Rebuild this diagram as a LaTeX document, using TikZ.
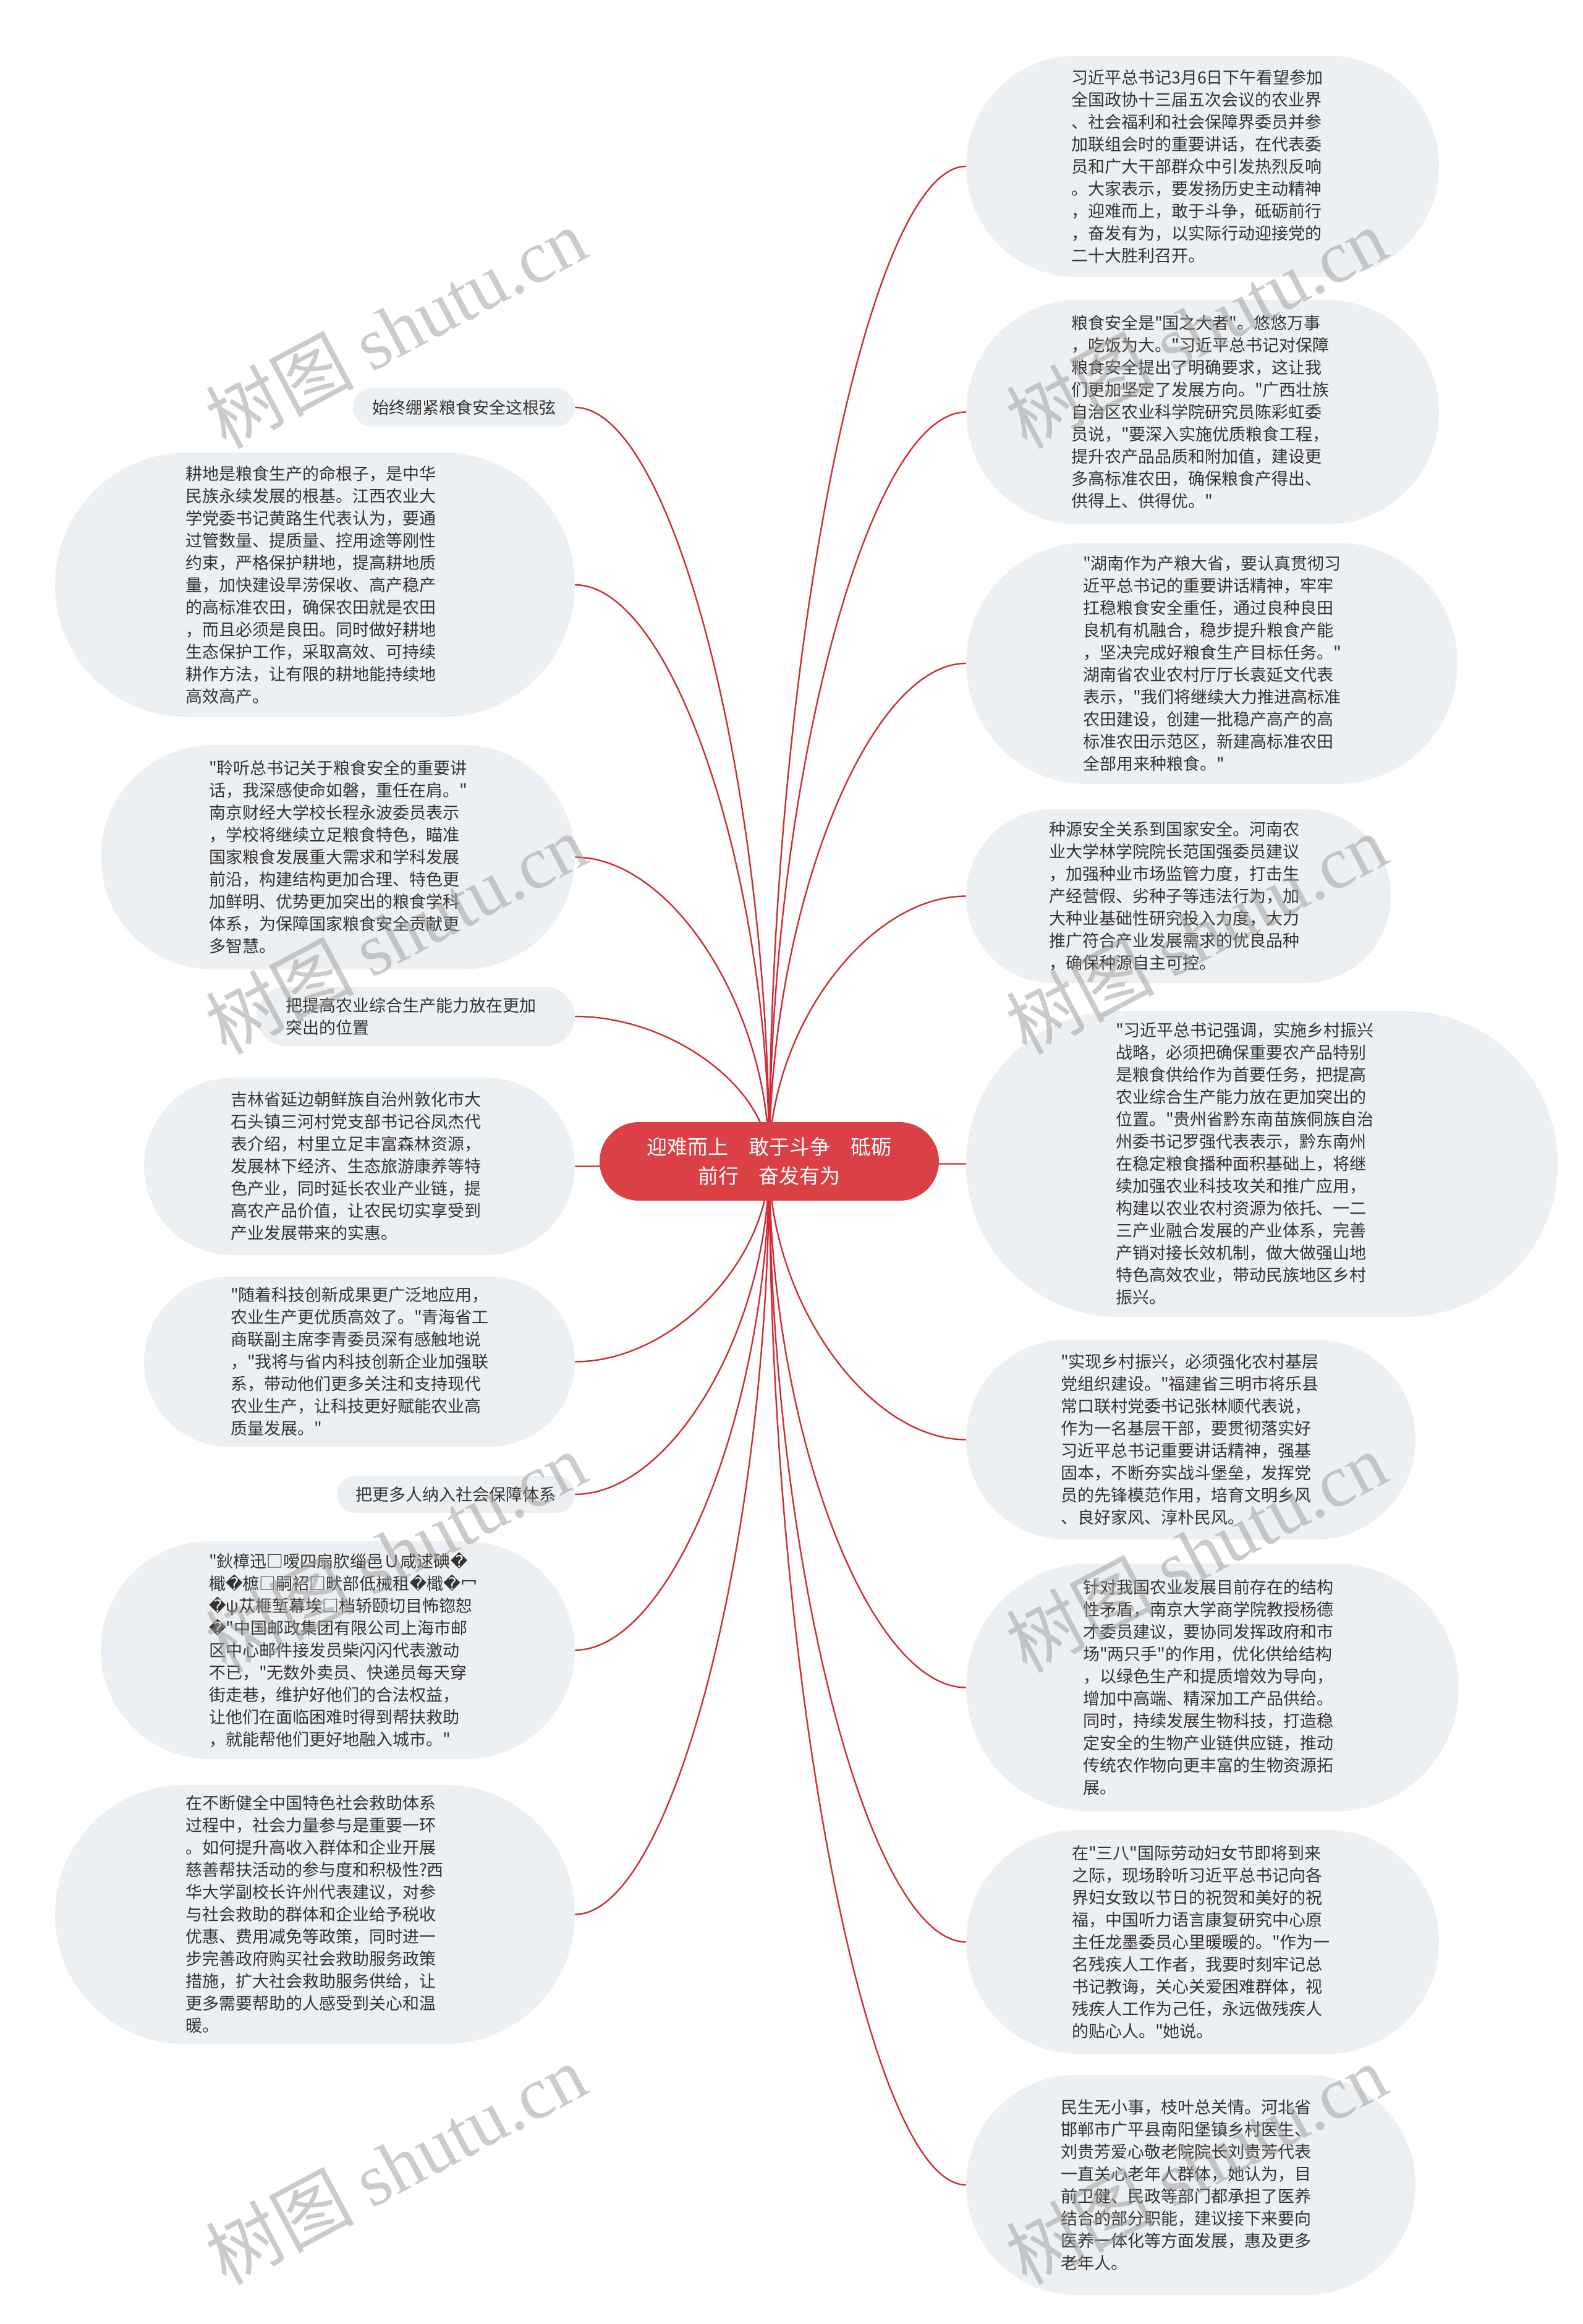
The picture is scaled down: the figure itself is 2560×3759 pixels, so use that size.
\documentclass[tikz,border=0pt]{standalone}
\usepackage{fontspec}
\setmainfont{Noto Sans CJK SC}[Ligatures=TeXOff]
\newfontfamily\wmfont{Liberation Serif}
\newfontfamily\symfont{DejaVu Sans}
\usetikzlibrary{calc,backgrounds}
\definecolor{rootred}{RGB}{218,64,70}
\definecolor{linkred}{RGB}{205,45,55}
\definecolor{leafgray}{RGB}{237,240,243}
\definecolor{inkgray}{RGB}{51,51,51}
\newcommand{\leaffont}{\fontsize{27pt}{36pt}\selectfont}
\newcommand{\topicfont}{\fontsize{33pt}{47pt}\selectfont}
\newcommand{\garb}{{\symfont\char"FFFD}}

\begin{document}
\begin{tikzpicture}[
    x=1pt,y=-1pt,
    topic/.style={fill=rootred,text=white,align=center,inner sep=0pt,font=\topicfont,
      minimum width=549pt,minimum height=127pt,rounded corners=63.5pt},
    leaf/.style n args={3}{fill=leafgray,text=inkgray,align=left,inner sep=0pt,font=\leaffont,
      minimum width=#1pt,minimum height=#2pt,text width=#3pt,rounded corners=#2pt/2},
    wire/.style={draw=linkred,line width=2.4pt},
    wmark/.style={rotate=28,text=black!40,text opacity=0.5,inner sep=0pt,
      font=\fontsize{120pt}{120pt}\selectfont},
  ]
    \useasboundingbox (0,0) rectangle (2560,3759);

    \node[topic] (root) at (1244.5,1878.5) {迎难而上\quad 敢于斗争\quad 砥砺\\前行\quad 奋发有为};

    \node[leaf={765}{358}{425}] (r1) at (1945.5,269) {习近平总书记3月6日下午看望参加\\全国政协十三届五次会议的农业界\\、社会福利和社会保障界委员并参\\加联组会时的重要讲话，在代表委\\员和广大干部群众中引发热烈反响\\。大家表示，要发扬历史主动精神\\，迎难而上，敢于斗争，砥砺前行\\，奋发有为，以实际行动迎接党的\\二十大胜利召开。};
    \node[leaf={765}{363}{425}] (r2) at (1945.5,666.5) {粮食安全是"国之大者"。悠悠万事\\，吃饭为大。"习近平总书记对保障\\粮食安全提出了明确要求，这让我\\们更加坚定了发展方向。"广西壮族\\自治区农业科学院研究员陈彩虹委\\员说，"要深入实施优质粮食工程，\\提升农产品品质和附加值，建设更\\多高标准农田，确保粮食产得出、\\供得上、供得优。"};
    \node[leaf={795}{390}{417}] (r3) at (1960.5,1073) {"湖南作为产粮大省，要认真贯彻习\\近平总书记的重要讲话精神，牢牢\\扛稳粮食安全重任，通过良种良田\\良机有机融合，稳步提升粮食产能\\，坚决完成好粮食生产目标任务。"\\湖南省农业农村厅厅长袁延文代表\\表示，"我们将继续大力推进高标准\\农田建设，创建一批稳产高产的高\\标准农田示范区，新建高标准农田\\全部用来种粮食。"};
    \node[leaf={687}{281}{419}] (r4) at (1906.5,1449.5) {种源安全关系到国家安全。河南农\\业大学林学院院长范国强委员建议\\，加强种业市场监管力度，打击生\\产经营假、劣种子等违法行为，加\\大种业基础性研究投入力度，大力\\推广符合产业发展需求的优良品种\\，确保种源自主可控。};
    \node[leaf={957}{495}{473}] (r5) at (2041.5,1882.5) {"习近平总书记强调，实施乡村振兴\\战略，必须把确保重要农产品特别\\是粮食供给作为首要任务，把提高\\农业综合生产能力放在更加突出的\\位置。"贵州省黔东南苗族侗族自治\\州委书记罗强代表表示，黔东南州\\在稳定粮食播种面积基础上，将继\\续加强农业科技攻关和推广应用，\\构建以农业农村资源为依托、一二\\三产业融合发展的产业体系，完善\\产销对接长效机制，做大做强山地\\特色高效农业，带动民族地区乡村\\振兴。};
    \node[leaf={727}{323}{421}] (r6) at (1926.5,2328.5) {"实现乡村振兴，必须强化农村基层\\党组织建设。"福建省三明市将乐县\\常口联村党委书记张林顺代表说，\\作为一名基层干部，要贯彻落实好\\习近平总书记重要讲话精神，强基\\固本，不断夯实战斗堡垒，发挥党\\员的先锋模范作用，培育文明乡风\\、良好家风、淳朴民风。};
    \node[leaf={797}{401}{419}] (r7) at (1961.5,2729.5) {针对我国农业发展目前存在的结构\\性矛盾，南京大学商学院教授杨德\\才委员建议，要协同发挥政府和市\\场"两只手"的作用，优化供给结构\\，以绿色生产和提质增效为导向，\\增加中高端、精深加工产品供给。\\同时，持续发展生物科技，打造稳\\定安全的生物产业链供应链，推动\\传统农作物向更丰富的生物资源拓\\展。};
    \node[leaf={765}{362}{423}] (r8) at (1945.5,3141) {在"三八"国际劳动妇女节即将到来\\之际，现场聆听习近平总书记向各\\界妇女致以节日的祝贺和美好的祝\\福，中国听力语言康复研究中心原\\主任龙墨委员心里暖暖的。"作为一\\名残疾人工作者，我要时刻牢记总\\书记教诲，关心关爱困难群体，视\\残疾人工作为己任，永远做残疾人\\的贴心人。"她说。};
    \node[leaf={727}{356}{421}] (r9) at (1926.5,3534) {民生无小事，枝叶总关情。河北省\\邯郸市广平县南阳堡镇乡村医生、\\刘贵芳爱心敬老院院长刘贵芳代表\\一直关心老年人群体，她认为，目\\前卫健、民政等部门都承担了医养\\结合的部分职能，建议接下来要向\\医养一体化等方面发展，惠及更多\\老年人。};

    \node[leaf={359}{62}{297}] (l1) at (750.5,659) {始终绷紧粮食安全这根弦};
    \node[leaf={841}{428}{419}] (l2) at (509.5,946) {耕地是粮食生产的命根子，是中华\\民族永续发展的根基。江西农业大\\学党委书记黄路生代表认为，要通\\过管数量、提质量、控用途等刚性\\约束，严格保护耕地，提高耕地质\\量，加快建设旱涝保收、高产稳产\\的高标准农田，确保农田就是农田\\，而且必须是良田。同时做好耕地\\生态保护工作，采取高效、可持续\\耕作方法，让有限的耕地能持续地\\高效高产。};
    \node[leaf={767}{363}{417}] (l3) at (546.5,1386.5) {"聆听总书记关于粮食安全的重要讲\\话，我深感使命如磐，重任在肩。"\\南京财经大学校长程永波委员表示\\，学校将继续立足粮食特色，瞄准\\国家粮食发展重大需求和学科发展\\前沿，构建结构更加合理、特色更\\加鲜明、优势更加突出的粮食学科\\体系，为保障国家粮食安全贡献更\\多智慧。};
    \node[leaf={515}{96}{421}] (l4) at (672.5,1644) {把提高农业综合生产能力放在更加\\突出的位置};
    \node[leaf={697}{287}{417}] (l5) at (581.5,1886.5) {吉林省延边朝鲜族自治州敦化市大\\石头镇三河村党支部书记谷凤杰代\\表介绍，村里立足丰富森林资源，\\发展林下经济、生态旅游康养等特\\色产业，同时延长农业产业链，提\\高农产品价值，让农民切实享受到\\产业发展带来的实惠。};
    \node[leaf={697}{275}{417}] (l6) at (581.5,2202.5) {"随着科技创新成果更广泛地应用，\\农业生产更优质高效了。"青海省工\\商联副主席李青委员深有感触地说\\，"我将与省内科技创新企业加强联\\系，带动他们更多关注和支持现代\\农业生产，让科技更好赋能农业高\\质量发展。"};
    \node[leaf={385}{60}{324}] (l7) at (737.5,2417) {把更多人纳入社会保障体系};
    \node[leaf={767}{352}{417}] (l8) at (546.5,2669) {"鈥樟迅□嗳四扇肷缁邑Ｕ咸逑碘\garb\\檝\garb 樜□嗣祒□畎部低械租\garb 檝\garb 冖\\\garb ψ苁榧堑幕埃□档轿颐切目怖锪恕\\\garb"中国邮政集团有限公司上海市邮\\区中心邮件接发员柴闪闪代表激动\\不已，"无数外卖员、快递员每天穿\\街走巷，维护好他们的合法权益，\\让他们在面临困难时得到帮扶救助\\，就能帮他们更好地融入城市。"};
    \node[leaf={841}{419}{419}] (l9) at (509.5,3096.5) {在不断健全中国特色社会救助体系\\过程中，社会力量参与是重要一环\\。如何提升高收入群体和企业开展\\慈善帮扶活动的参与度和积极性?西\\华大学副校长许州代表建议，对参\\与社会救助的群体和企业给予税收\\优惠、费用减免等政策，同时进一\\步完善政府购买社会救助服务政策\\措施，扩大社会救助服务供给，让\\更多需要帮助的人感受到关心和温\\暖。};

    \begin{scope}[on background layer]
      \fill[white] (0,0) rectangle (2560,3759);
      \foreach \nd/\an in {r1/west,r2/west,r3/west,r4/west,r5/west,r6/west,r7/west,r8/west,r9/west,
          l1/east,l2/east,l3/east,l4/east,l5/east,l6/east,l7/east,l8/east,l9/east} {
        \path ($(root.center)!0.5!(\nd.\an)$) coordinate (m);
        \draw[wire] (root.center) .. controls (root.center |- m) and (m |- \nd.\an) .. (\nd.\an);
      }
    \end{scope}

    \foreach \wx/\wy [count=\k] in {640/530,1935/530,640/1510,1935/1510,640/2510,1935/2510,640/3500,1935/3500}
      \node[wmark] (wm\k) at (\wx,\wy) {树图 {\wmfont shutu.cn}};
\end{tikzpicture}
\end{document}
